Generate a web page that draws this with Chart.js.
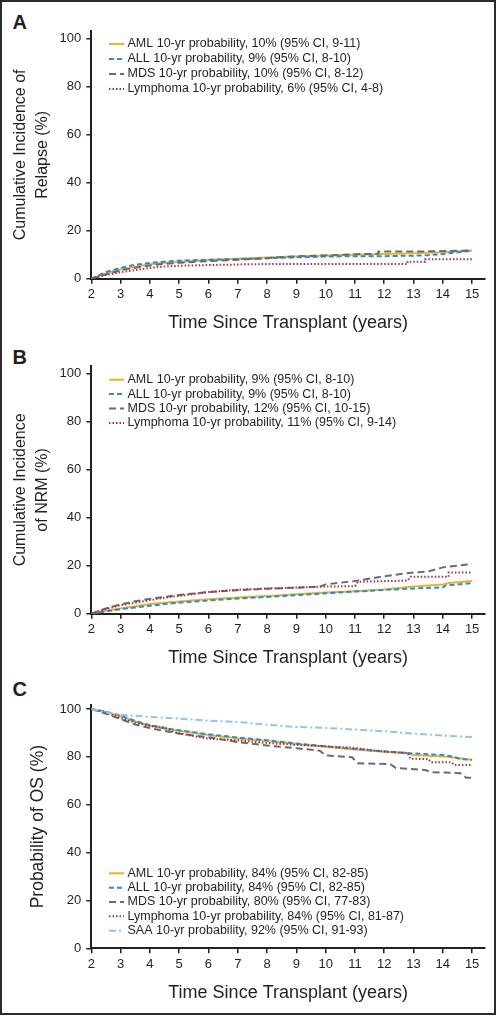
<!DOCTYPE html>
<html>
<head>
<meta charset="utf-8">
<script src="https://cdn.jsdelivr.net/npm/chart.js@4"></script>
<style>
  html, body { margin: 0; padding: 0; background: #fff; }
  body { width: 498px; height: 1018px; position: relative; overflow: hidden; }
  canvas { position: absolute; left: 0; }
  .frame { position: absolute; left: 0; top: 0; width: 496px; height: 1015px; box-sizing: border-box; border: 2px solid #2b2b2b; pointer-events: none; }
  .plabel { position: absolute; left: 12.5px; font: bold 20px "Liberation Sans", Arial, sans-serif; line-height: 20px; color: #231f20; }
</style>
</head>
<body>
<div class="frame"></div>
<div class="plabel" style="top:12.4px">A</div>
<div class="plabel" style="top:347px">B</div>
<div class="plabel" style="top:679px">C</div>
<canvas id="cA" width="498" height="340" style="top:0px"></canvas>
<canvas id="cB" width="498" height="340" style="top:340px"></canvas>
<canvas id="cC" width="498" height="338" style="top:680px"></canvas>
<script>
// ---------- data ----------
const xTicks = [2, 3, 4, 5, 6, 7, 8, 9, 10, 11, 12, 13, 14, 15];
const yTicks = [0, 20, 40, 60, 80, 100];

const groupNames = ['AML', 'ALL', 'MDS', 'Lymphoma', 'SAA'];

const relapseLabels = [
  'AML 10-yr probability, 10% (95% CI, 9-11)',
  'ALL 10-yr probability, 9% (95% CI, 8-10)',
  'MDS 10-yr probability, 10% (95% CI, 8-12)',
  'Lymphoma 10-yr probability, 6% (95% CI, 4-8)'
];
const nrmLabels = [
  'AML 10-yr probability, 9% (95% CI, 8-10)',
  'ALL 10-yr probability, 9% (95% CI, 8-10)',
  'MDS 10-yr probability, 12% (95% CI, 10-15)',
  'Lymphoma 10-yr probability, 11% (95% CI, 9-14)'
];
const osLabels = [
  'AML 10-yr probability, 84% (95% CI, 82-85)',
  'ALL 10-yr probability, 84% (95% CI, 82-85)',
  'MDS 10-yr probability, 80% (95% CI, 77-83)',
  'Lymphoma 10-yr probability, 84% (95% CI, 81-87)',
  'SAA 10-yr probability, 92% (95% CI, 91-93)'
];

// [years since transplant, percent]
const relapseAML = [[2,0],[2.5,2.2],[3,3.8],[3.5,5.0],[4,6.0],[4.5,6.6],[5,7.0],[5.5,7.4],[6,7.8],[7,8.3],[8,8.8],[9,9.3],[10,9.7],[11,10.0],[12,10.3],[13,10.6],[14,11.0],[15,11.7]];
const relapseALL = [[2,0],[2.5,2.8],[3,4.5],[3.5,5.8],[4,6.6],[4.5,7.1],[5,7.5],[6,7.9],[7,8.2],[8,8.5],[9,8.9],[10,9.2],[11,9.4],[12,9.4],[13,9.6],[13.5,9.8],[14,10.3],[14.5,11.0],[15,11.6]];
const relapseMDS = [[2,0],[2.5,1.8],[3,3.5],[3.5,4.6],[4,5.5],[4.5,6.2],[5,6.6],[5.5,7.0],[6,7.3],[7,7.9],[8,8.5],[8.5,9.0],[9,9.3],[10,9.7],[11,10.2],[11.8,10.4],[11.8,11.3],[13,11.3],[14,11.5],[15,11.8]];
const relapseLymph = [[2,0],[2.5,1.5],[3,2.7],[3.5,3.6],[4,4.5],[4.5,5.1],[5,5.4],[6,5.7],[7,5.9],[7.2,6.0],[8,6.1],[12.8,6.1],[12.8,7.1],[13.4,7.1],[13.4,8.1],[15,8.1]];

const nrmAML = [[2,0],[2.5,1.2],[3,2.2],[3.5,3.1],[4,4.0],[4.5,4.6],[5,5.1],[6,6.0],[7,6.7],[8,7.4],[9,8.1],[10,8.8],[11,9.4],[12,10.1],[13,11.3],[14,12.2],[14.2,12.8],[15,13.6]];
const nrmALL = [[2,0],[2.5,0.9],[3,1.9],[3.5,2.6],[4,3.3],[4.5,4.0],[5,4.6],[6,5.5],[7,6.3],[8,7.0],[9,7.7],[10,8.5],[11,9.2],[12,9.9],[13,10.5],[14,11.0],[14.1,11.8],[15,12.7]];
const nrmMDS = [[2,0],[2.5,2.2],[3,3.9],[3.5,5.2],[4,6.2],[4.5,7.0],[5,7.8],[6,9.0],[7,9.8],[8,10.4],[9,10.8],[9.8,11.3],[10,12.2],[11,13.6],[12,15.6],[13,17.2],[13.5,17.6],[14,19.3],[15,20.7]];
const nrmLymph = [[2,0],[2.5,2.0],[3,3.5],[3.5,4.6],[4,5.6],[4.5,6.7],[5,7.4],[5.5,8.2],[6,9.0],[7,10.0],[8,10.5],[9,10.9],[10,11.3],[11,11.5],[11.1,13.3],[12.8,13.8],[12.9,15.4],[14.2,15.4],[14.2,17.2],[15,17.2]];

const osAML = [[2,100],[2.5,98.8],[3,97.0],[3.5,94.8],[4,93.0],[4.5,91.8],[5,90.9],[6,89.1],[7,87.7],[8,86.6],[9,85.4],[10,84.2],[11,83.1],[12,82.1],[12.8,81.5],[13,80.8],[14,80.2],[14.5,79.5],[15,78.8]];
const osALL = [[2,100],[2.5,98.9],[3,97.2],[3.5,95.0],[4,93.2],[4.5,92.0],[5,91.1],[6,89.4],[7,88.1],[8,86.9],[9,85.6],[10,84.4],[11,83.3],[12,82.3],[13,81.4],[14,80.8],[14.4,80.0],[14.6,79.0],[15,78.8]];
const osMDS = [[2,100],[2.5,98.0],[3,95.8],[3.5,93.5],[4,92.0],[4.5,90.8],[5,89.7],[6,88.2],[7,86.2],[8,84.7],[9,83.6],[9.8,82.6],[10,80.6],[10.9,79.8],[11.1,77.3],[12.2,77.0],[12.4,75.3],[13.4,74.5],[13.6,73.6],[14.6,73.2],[14.8,71.3],[15,71.2]];
const osLymph = [[2,100],[2.5,98.5],[3,96.2],[3.5,94.3],[4,93.0],[4.5,92.3],[4.8,90.5],[5.3,89.1],[6,87.6],[7,86.9],[8,85.8],[9,85.0],[10,84.4],[11,83.8],[11.5,82.9],[12,82.2],[12.8,81.6],[12.9,79.2],[13.5,79.1],[13.6,77.7],[14.3,77.7],[14.4,76.6],[15,76.6]];
const osSAA = [[2,100],[2.5,98.6],[3,97.6],[4,96.7],[5,96.0],[6,95.1],[7,94.6],[8,93.4],[9,92.5],[10,92.1],[11,91.4],[12,90.7],[13,89.7],[14,88.9],[15,88.3]];

// ---------- styles ----------
const INK = '#231f20';
const seriesStyle = {
  AML:      { color: '#E8B525', dash: [],            order: 5 },
  ALL:      { color: '#2C8BD6', dash: [5, 3],        order: 4 },
  MDS:      { color: '#6a6b6e', dash: [7, 4],        order: 3 },
  Lymphoma: { color: '#A8304A', dash: [1.5, 2],      order: 2 },
  SAA:      { color: '#8CC6F0', dash: [7, 3, 2, 3],  order: 1 }
};

Chart.defaults.font.family = '"Liberation Sans", Arial, sans-serif';
Chart.defaults.color = INK;

const inlineLegend = {
  id: 'inlineLegend',
  afterDatasetsDraw(chart, args, opts) {
    const ctx = chart.ctx;
    ctx.save();
    ctx.font = '12.5px "Liberation Sans", Arial, sans-serif';
    ctx.textBaseline = 'middle';
    ctx.textAlign = 'left';
    chart.data.datasets.forEach((ds, i) => {
      const y = opts.y + i * opts.dy;
      ctx.strokeStyle = ds.borderColor;
      ctx.lineWidth = 2;
      ctx.setLineDash(ds.borderDash || []);
      ctx.beginPath();
      ctx.moveTo(opts.x, y);
      ctx.lineTo(opts.x + 15, y);
      ctx.stroke();
      ctx.setLineDash([]);
      ctx.fillStyle = INK;
      ctx.fillText(ds.label, opts.x + 18.5, y);
    });
    ctx.restore();
  }
};

function makeDatasets(seriesList, labels) {
  return seriesList.map((pts, i) => {
    const st = seriesStyle[groupNames[i]];
    return {
      label: labels[i],
      data: pts.map(p => ({ x: p[0], y: p[1] })),
      borderColor: st.color,
      backgroundColor: st.color,
      borderDash: st.dash,
      borderWidth: 2,
      pointRadius: 0,
      tension: 0,
      fill: false,
      order: st.order
    };
  });
}

function makePanel(id, H, chartTop, chartBottom, yMax, yTitle, yTitleSize, yTitlePad, xTitlePad, datasets, legend) {
  new Chart(document.getElementById(id), {
    type: 'line',
    data: { datasets },
    options: {
      responsive: false,
      animation: false,
      devicePixelRatio: 1,
      layout: { padding: { top: chartTop, right: 13, left: 0, bottom: 0 } },
      plugins: { legend: { display: false }, tooltip: { enabled: false }, inlineLegend: legend },
      scales: {
        x: {
          type: 'linear', min: 2, max: 15.44,
          afterBuildTicks: s => { s.ticks = xTicks.map(v => ({ value: v })); },
          afterFit: s => { s.height = H - chartBottom; },
          ticks: { font: { size: 13 }, color: INK, padding: 3, maxRotation: 0, autoSkip: false, callback: v => String(v) },
          grid: { drawOnChartArea: false, drawTicks: true, tickLength: 5, color: INK, lineWidth: 1.5 },
          border: { display: true, color: INK, width: 2 },
          title: { display: true, text: 'Time Since Transplant (years)', font: { size: 18, lineHeight: 1.2 }, color: INK, padding: { top: 0, bottom: xTitlePad } }
        },
        y: {
          type: 'linear', min: 0, max: yMax,
          afterBuildTicks: s => { s.ticks = yTicks.map(v => ({ value: v })); },
          afterFit: s => { s.width = 91.3; },
          ticks: { font: { size: 13 }, color: INK, padding: 5, callback: v => String(v) },
          grid: { drawOnChartArea: false, drawTicks: true, tickLength: 5, color: INK, lineWidth: 1.5 },
          border: { display: true, color: INK, width: 2 },
          title: { display: true, text: yTitle, font: { size: yTitleSize, lineHeight: 22 / yTitleSize }, color: INK, padding: { top: yTitlePad, bottom: 0 } }
        }
      }
    },
    plugins: [inlineLegend]
  });
}

makePanel('cA', 340, 31, 278.7, 103.2, ['Cumulative Incidence of', 'Relapse (%)'], 16, 9.5, 6.5,
  makeDatasets([relapseAML, relapseALL, relapseMDS, relapseLymph], relapseLabels),
  { x: 109, y: 44, dy: 15 });
makePanel('cB', 340, 26, 273.7, 103.2, ['Cumulative Incidence', 'of NRM (%)'], 16, 9.5, 11.2,
  makeDatasets([nrmAML, nrmALL, nrmMDS, nrmLymph], nrmLabels),
  { x: 109, y: 39.7, dy: 14.4 });
makePanel('cC', 338, 25, 268.3, 101.67, 'Probability of OS (%)', 17.5, 27, 14.5,
  makeDatasets([osAML, osALL, osMDS, osLymph, osSAA], osLabels),
  { x: 109, y: 193.3, dy: 14.35 });
</script>
</body>
</html>
